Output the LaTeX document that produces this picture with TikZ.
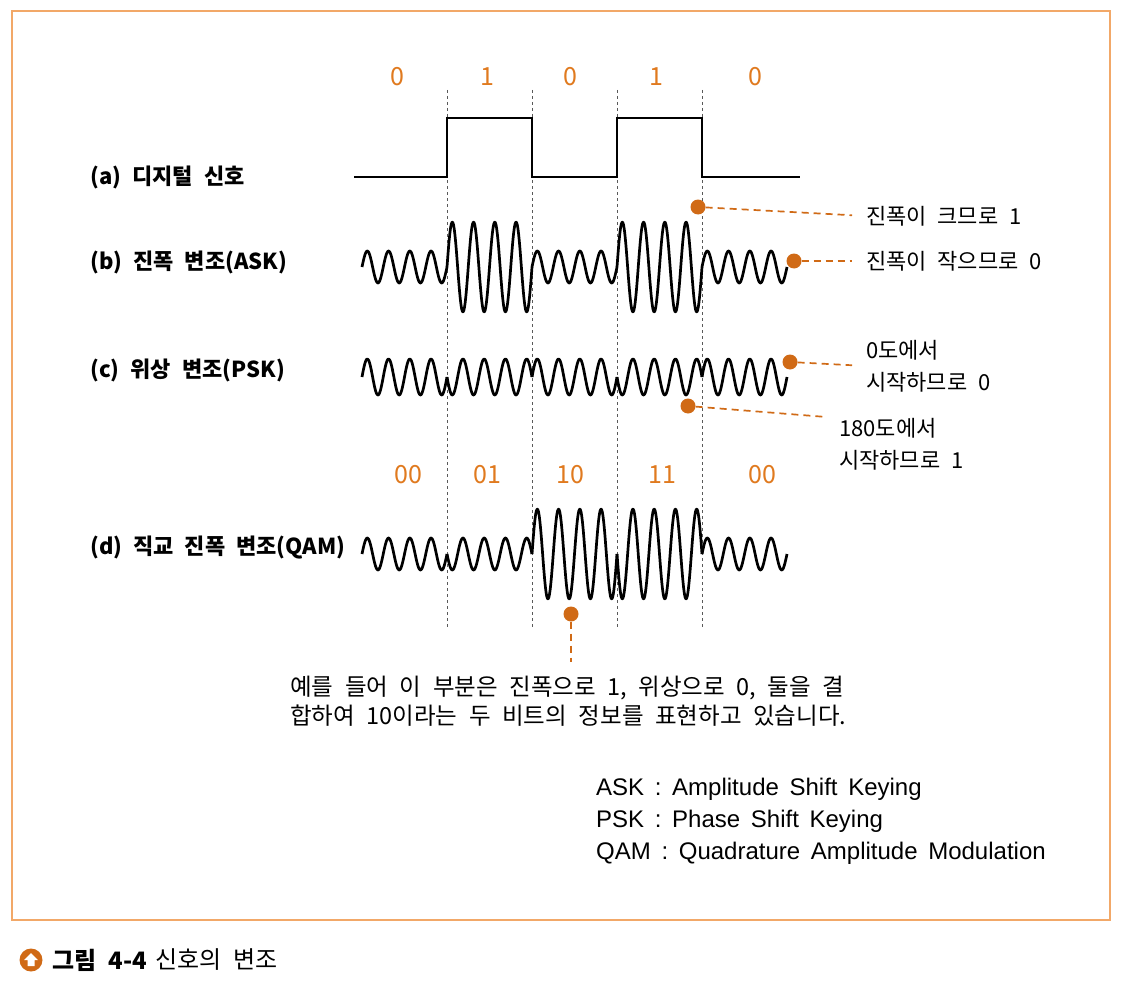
\documentclass[tikz,border=0pt]{standalone}
\usepackage{fontspec}
\setmainfont[WordSpace=2.2]{Noto Sans CJK KR}
\newfontfamily\legendfont[WordSpace=1.6]{Liberation Sans}
\usetikzlibrary{positioning}

\definecolor{bitorange}{HTML}{E07A1F}
\definecolor{dotorange}{HTML}{D06A16}
\definecolor{frameorange}{HTML}{F2A868}

\begin{document}
\begin{tikzpicture}[x=1pt,y=-1pt,
    every node/.style={font=\fontsize{22}{32}\selectfont},
    wave/.style={line width=2.7pt,line join=round},
    bitlab/.style={text=bitorange,font=\fontsize{25}{25}\selectfont},
    rowlab/.style={anchor=west,inner sep=0pt,font=\fontsize{22}{22}\selectfont\bfseries},
    dot/.style={circle,fill=dotorange,inner sep=0pt,minimum size=15pt},
    lead/.style={dotorange,dash pattern=on 7pt off 5pt,line width=1.7pt},
    note/.style={align=left,inner sep=0pt}]

    \useasboundingbox (0,0) rectangle (1130,1006);
    \draw[frameorange,line width=1.5pt] (12,11) rectangle (1110,920);

    % Bit boundaries
    \foreach \xx in {447,532,617,702}
        \draw[gray!70!black,dash pattern=on 3pt off 3pt,line width=0.9pt] (\xx,90) -- (\xx,628);

    % Bit values
    \foreach \b/\xx [count=\k] in {0/397,1/487,0/570,1/656,0/755}
        \node[bitlab] (bit\k) at (\xx,77) {\b};
    \foreach \b/\xx [count=\k] in {00/408,01/487,10/570,11/662,00/762}
        \node[bitlab] (sym\k) at (\xx,475) {\b};

    % Row labels
    \node[rowlab] (rowa) at (90,177) {(a) 디지털 신호};
    \node[rowlab] (rowb) at (90,262) {(b) 진폭 변조(ASK)};
    \node[rowlab] (rowc) at (90,370) {(c) 위상 변조(PSK)};
    \node[rowlab] (rowd) at (90,548) {(d) 직교 진폭 변조(QAM)};

    % (a) digital signal
    \draw[line width=2.7pt] (354,177) -- (447,177) -- (447,118) -- (532,118) -- (532,177)
        -- (617,177) -- (617,118) -- (702,118) -- (702,177) -- (800,177);

    % (b) ASK: amplitude follows the bit (4 cycles per bit, 16.9412 = 4*360/85)
    \foreach \b [count=\k from 0] in {0,1,0,1,0} {
        \pgfmathsetmacro\amp{16+29*\b}
        \draw[wave] plot[domain=0:85,samples=121,smooth]
            ({362+85*\k+\x},{267-\amp*sin(\x*16.9412)});
    }

    % (c) PSK: phase follows the bit
    \foreach \b [count=\k from 0] in {0,1,0,1,0} {
        \draw[wave] plot[domain=0:85,samples=121,smooth]
            ({362+85*\k+\x},{377-18*sin(\x*16.9412+180*\b)});
    }

    % (d) QAM: amplitude / phase
    \foreach \a/\p [count=\k from 0] in {0/0,0/1,1/0,1/1,0/0} {
        \pgfmathsetmacro\amp{16+29*\a}
        \draw[wave] plot[domain=0:85,samples=121,smooth]
            ({362+85*\k+\x},{554-\amp*sin(\x*16.9412+180*\p)});
    }

    % Callouts
    \node[dot] (askHi) at (698,207) {};
    \node[dot] (askLo) at (794,261) {};
    \node[dot] (pskZero) at (790,362) {};
    \node[dot] (pskOne) at (688,406) {};
    \node[dot] (qamEx) at (571,614) {};

    \node[note,anchor=west] (txtHi) at (866,216) {진폭이 크므로 1};
    \node[note,anchor=west] (txtLo) at (866,261) {진폭이 작으므로 0};
    \node[note,anchor=west] (txtZero) at (866,366) {0도에서\\시작하므로 0};
    \node[note,anchor=north west] (txtOne) at (839,418) {180도에서\\시작하므로 1};
    \node[note,anchor=north west,font=\fontsize{23.5}{29}\selectfont] (txtEx) at (290,676)
        {예를 들어 이 부분은 진폭으로 1, 위상으로 0, 둘을 결\\합하여 10이라는 두 비트의 정보를 표현하고 있습니다.};

    \draw[lead,shorten >=14pt] (askHi) -- (txtHi.west);
    \draw[lead,shorten >=14pt] (askLo) -- (txtLo.west);
    \draw[lead,shorten >=14pt] (pskZero) -- (txtZero.west);
    \draw[lead,shorten >=12pt] (pskOne) -- (txtOne.north west);
    \draw[lead,shorten >=14pt] (qamEx) -- (qamEx |- txtEx.north);

    % Legend
    \node[note,anchor=north west,font=\fontsize{24}{32}\legendfont] (legend) at (596,778)
        {ASK : Amplitude Shift Keying\\PSK : Phase Shift Keying\\QAM : Quadrature Amplitude Modulation};

    % Caption
    \node[circle,fill=dotorange,minimum size=23pt,inner sep=0pt] (capicon) at (31,960) {};
    \fill[white] ([shift={(0,-7)}]capicon.center) -- ++(7,7) -- ++(-3.5,0) -- ++(0,6)
        -- ++(-7,0) -- ++(0,-6) -- ++(-3.5,0) -- cycle;
    \node[anchor=west,inner sep=0pt,font=\fontsize{24}{24}\selectfont\bfseries] (capnum)
        at (52,960) {그림 4-4};
    \node[right=8pt of capnum,inner sep=0pt,font=\fontsize{24}{24}\selectfont] (captxt) {신호의 변조};
\end{tikzpicture}
\end{document}
